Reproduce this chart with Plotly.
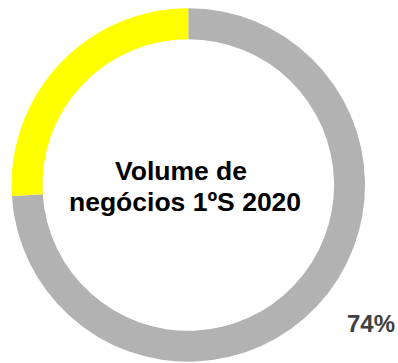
import plotly.graph_objects as go

# Share of turnover, first half of 2020
labels = ["Restante", "Volume de negócios 1ºS 2020"]
values = [74, 26]
colors = ["#B2B2B2", "#FFFF00"]
title_lines = ["Volume de", "negócios 1ºS 2020"]

W, H = 398, 363
FONT = "Liberation Sans, Arial, sans-serif"

fig = go.Figure(
    go.Pie(
        labels=labels,
        values=values,
        marker=dict(colors=colors, line=dict(width=0)),
        hole=0.825,
        sort=False,
        direction="clockwise",
        rotation=0,
        textinfo="none",
        hoverinfo="label+percent",
        showlegend=False,
        domain=dict(x=[11.5 / W, 365 / W], y=[1 - 362 / H, 1 - 8 / H]),
    )
)

share = round(100 * values[0] / sum(values))

# centre title, one annotation per line
for text, cx, cy in zip(title_lines, [181, 185], [170.5, 202]):
    fig.add_annotation(
        x=cx / W, y=1 - cy / H,
        xref="paper", yref="paper",
        text=f"<b>{text}</b>",
        showarrow=False,
        font=dict(family=FONT, size=26.5, color="#000000"),
        xanchor="center", yanchor="middle",
    )

fig.add_annotation(
    x=370.5 / W, y=1 - 323 / H,
    xref="paper", yref="paper",
    text=f"<b>{share}%</b>",
    showarrow=False,
    font=dict(family=FONT, size=24, color="#404040"),
    xanchor="center", yanchor="middle",
)

fig.update_layout(
    width=W, height=H,
    margin=dict(l=0, r=0, t=0, b=0),
    paper_bgcolor="#FFFFFF",
    plot_bgcolor="#FFFFFF",
)

fig.write_html("out.html")
